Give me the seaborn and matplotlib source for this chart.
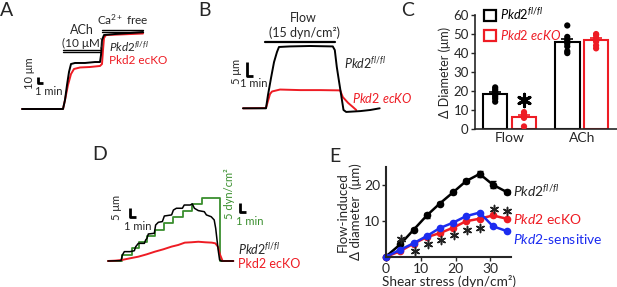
import matplotlib
matplotlib.use("Agg")
import matplotlib.pyplot as plt
import seaborn as sns
import pandas as pd
import numpy as np
from matplotlib.patches import Patch

# ---------------- data ----------------
# A: ACh then Ca2+-free, time (min) vs diameter change (um)
a_fl_t = [0, 8.2, 8.6, 9.0, 9.4, 9.8, 10.6, 12.6, 14.6, 15.6, 15.8, 16.0, 16.4, 18.6, 21.6, 24.2]
a_fl_d = [0, 0, 15, 40, 61.7, 75, 76.7, 76.7, 78.3, 78.3, 90, 115, 123.3, 125, 126.7, 128.3]
a_ko_t = [0, 8.2, 8.6, 9.2, 9.8, 10.4, 11.6, 13.6, 15.6, 16.0, 16.2, 16.4, 16.8, 19.6, 24.2]
a_ko_d = [0, 0, 15, 40, 58.3, 66.7, 69.2, 70, 71.7, 75, 98.3, 118.3, 123.3, 124.2, 125.8]

# B: flow 15 dyn/cm2
b_fl_t = [0, 3.43, 3.73, 4.18, 4.63, 5.07, 5.37, 7.0, 10.0, 13.4, 13.7, 14.0, 14.3, 14.7, 15.0, 15.4, 17.5, 19.0, 20.4]
b_fl_d = [0, 0, 4.75, 10.8, 16.5, 20.1, 21.9, 22.1, 22.25, 22.1, 20.8, 14.75, 10.1, 4.0, -0.6, -1.3, -1.0, -0.6, 0]
b_ko_t = [0, 3.43, 3.73, 4.03, 4.33, 5.52, 8.51, 11.5, 14.5, 14.9, 15.7, 16.4, 16.9]
b_ko_d = [0, 0.1, 2.6, 5.1, 6.0, 6.7, 6.5, 6.5, 6.4, 4.0, 1.9, 0.46, -0.6]

# D: stepwise shear stress
d_fl_t = [0, 2.17, 2.39, 2.72, 3.67, 4.39, 4.61, 5.06, 6.06, 6.28, 6.5, 6.72, 7.72, 7.94, 8.39, 9.06,
          9.39, 10.6, 10.9, 11.4, 12.4, 12.7, 13.7, 14.05, 14.4, 15.05, 16.05, 16.4, 17.2, 17.7,
          17.95, 18.17, 18.4, 18.6, 18.9, 20.9]
d_fl_d = [0, 0.2, 3.3, 5.2, 5.2, 5.7, 7.9, 9.8, 9.8, 11.7, 12.6, 15, 15.4, 20, 21.5, 21.9,
          25, 25.6, 28.3, 29.3, 29.3, 31.1, 31.1, 31.7, 29.3, 28, 27.4, 25.6, 24.6, 22.8,
          18.1, 11.7, 5.2, 0.6, 0, 0]
d_ko_t = [0, 1.17, 2.28, 3.67, 5.06, 6.44, 7.83, 9.22, 10.6, 11.7, 12.8, 13.9, 15.06, 16.2, 17.3,
          17.9, 18.3, 18.7, 19.1, 20.9]
d_ko_d = [0, 0.2, 0.55, 1.5, 2.4, 3.7, 5.2, 6.5, 8.0, 8.9, 10.2, 10.4, 10.7, 10.4, 10.2,
          9.8, 8.0, 3.3, 0, 0]
d_shear_t = [0, 2.28, 3.94, 5.22, 6.56, 7.83, 9.33, 10.9, 12.56, 14.06, 15.6, 18.67, 20.9]
d_shear = [0, 3.5, 7, 10.5, 14, 17.5, 21, 24.5, 28, 31.5, 35, 0, 0]

# C: bar chart values (um)
flow_fl = [22, 21, 20, 19, 18, 17, 16, 14.5]
flow_ko = [9, 8, 7.5, 6.5, 6, 1.5]
ach_fl = [54.5, 48.5, 47, 46, 45, 43.5, 41, 40]
ach_ko = [50, 49.5, 48, 46, 44, 42.5]

# E: shear stress-response
shear = [0, 4.2, 8, 11.8, 15.5, 19.3, 23, 26.9, 30.7, 34.6]
e_fl = [0, 3.5, 7.5, 11.5, 14.8, 17.9, 21, 23, 20, 18]
e_fl_sem = [0, 0.3, 0.4, 0.6, 0.4, 0.4, 0.6, 0.8, 1.0, 0.5]
e_ko = [0, 1.6, 3.7, 5.5, 6.6, 8.1, 9.9, 10.6, 11.5, 10.6]
e_sens = [0, 2, 3.8, 5.8, 8, 9.5, 11.3, 12.3, 8.5, 7.2]
star_x = [4.3, 8.4, 12.2, 15.8, 19.6, 23.3, 27.1, 30.9, 34.8]
star_y = [5.1, 1.6, 3.5, 4.6, 6.2, 7.4, 8.1, 13.4, 12.6]

BLACK = "black"
RED = "#ee1c24"
BLUE = "#1c2cf0"
GREEN = "#3a8f2e"

sns.set_theme(style="ticks")
plt.rcParams["font.family"] = ["Lato", "DejaVu Sans"]
plt.rcParams.update({
    "mathtext.fontset": "custom",
    "mathtext.rm": "Lato",
    "mathtext.it": "Lato:italic",
    "mathtext.bf": "Lato:bold",
    "font.size": 9,
})

FL = r"$\mathit{Pkd2}^{\mathit{fl/fl}}$"
STAR = (6, 2, 0)   # six-armed asterisk marker

W, H = 617, 287
fig = plt.figure(figsize=(W / 100, H / 100), dpi=100)


def px_axes(box, origin, xs, ys):
    # box in pixels (left, top, right, bottom); origin = pixel of (0, 0)
    left, top, right, bottom = box
    ax = fig.add_axes([left / W, 1 - bottom / H, (right - left) / W, (bottom - top) / H])
    ax.set_xlim((left - origin[0]) / xs, (right - origin[0]) / xs)
    ax.set_ylim((origin[1] - bottom) / ys, (origin[1] - top) / ys)
    ax.axis("off")
    return ax


def trace(ax, t, d, color, lw=1.4, **kw):
    sns.lineplot(x=t, y=d, ax=ax, color=color, lw=lw, estimator=None, sort=False, **kw)


def scale_bar(ax, x, y, dx, dy, color="black"):
    ax.plot([x, x, x + dx], [y + dy, y, y], color=color, lw=2.0, solid_capstyle="butt")


# ---------------- A ----------------
axA = px_axes((0, 0, 150, 130), (22, 109), 5, 0.6)
trace(axA, a_ko_t, a_ko_d, RED)
trace(axA, a_fl_t, a_fl_d, BLACK)
for yy in (95, 98.3):
    axA.plot([8.2, 15.6], [yy, yy], color="black", lw=1.0)
for yy in (128.5, 132):
    axA.plot([16.0, 24.2], [yy, yy], color="black", lw=1.0)
axA.text(12.0, 131, "ACh", ha="center", va="center")
axA.text(12.0, 109.5, "(10 μM)", ha="center", va="center", fontsize=8.5)
axA.text(20.2, 148.5, r"Ca$^{2+}$ free", ha="center", va="center", fontsize=8.5)
axA.text(17.4, 103.5, FL, ha="left", va="center", fontsize=8.5)
axA.text(17.4, 81.0, "Pkd2 ecKO", ha="left", va="center", color=RED, fontsize=8.5)
scale_bar(axA, 3.1, 43.3, 1.0, 10)
axA.text(1.5, 60, "10 μm", rotation=90, ha="center", va="center", fontsize=8)
axA.text(5.4, 30, "1 min", ha="center", va="center", fontsize=8)

# ---------------- B ----------------
axB = px_axes((200, 0, 400, 135), (243, 108.3), 6.7, 2.8)
trace(axB, b_ko_t, b_ko_d, RED)
trace(axB, b_fl_t, b_fl_d, BLACK)
axB.plot([3.28, 13.7], [23.8, 23.8], color="black", lw=1.6)
axB.text(8.96, 32.2, "Flow", ha="center", va="center")
axB.text(9.25, 26.9, "(15 dyn/cm²)", ha="center", va="center")
scale_bar(axB, 0.55, 11.5, 1.0, 5)
axB.text(-0.9, 13.3, "5 μm", rotation=90, ha="center", va="center", fontsize=8)
axB.text(1.57, 8.7, "1 min", ha="center", va="center", fontsize=8)
axB.text(15.0, 16.2, FL, ha="left", va="center")
axB.text(16.2, 3.7, r"$\mathit{Pkd2\ ecKO}$", ha="left", va="center", color=RED)

# ---------------- D ----------------
axD = px_axes((90, 140, 300, 280), (108, 261), 6, 1.8)
sns.lineplot(x=d_shear_t, y=d_shear, ax=axD, color=GREEN, lw=1.3, estimator=None,
             sort=False, drawstyle="steps-post")
trace(axD, d_ko_t, d_ko_d, RED)
trace(axD, d_fl_t, d_fl_d, BLACK, lw=1.1)
scale_bar(axD, 3.67, 24.4, 1.0, 5)
axD.text(1.5, 30, "5 μm", rotation=90, ha="center", va="center", fontsize=8)
axD.text(4.9, 18.9, "1 min", ha="center", va="center", fontsize=8)
scale_bar(axD, 22.0, 27.2, 1.0, 5)
axD.text(20.3, 37.5, "5 dyn/cm²", rotation=90, ha="center", va="center", fontsize=8, color=GREEN)
axD.text(23.6, 22.2, "1 min", ha="center", va="center", fontsize=8, color=GREEN)
axD.text(21.6, 6.4, FL, ha="left", va="center")
axD.text(21.6, -1.4, "Pkd2 ecKO", ha="left", va="center", color=RED)

# ---------------- C ----------------
rows = []
for cond, geno, vals in [("Flow", "fl", flow_fl), ("Flow", "ko", flow_ko),
                         ("ACh", "fl", ach_fl), ("ACh", "ko", ach_ko)]:
    for v in vals:
        rows.append({"cond": cond, "geno": geno, "val": v})
df_c = pd.DataFrame(rows)

axC = fig.add_axes([475 / W, 1 - 129.3 / H, 142 / W, 114.3 / H])
pal = {"fl": BLACK, "ko": RED}
sns.barplot(data=df_c, x="cond", y="val", hue="geno", hue_order=["fl", "ko"], palette=pal,
            errorbar=None, fill=False, linewidth=1.5, width=0.8, gap=0.15, legend=False, ax=axC)
stats = df_c.groupby(["cond", "geno"])["val"].agg(["mean", "sem"])
for i, cond in enumerate(["Flow", "ACh"]):
    for off, geno in [(-0.2, "fl"), (0.2, "ko")]:
        m, s = stats.loc[(cond, geno)]
        axC.errorbar([i + off], [m], yerr=[[0], [s]], fmt="none", ecolor=pal[geno],
                     elinewidth=1.2, capsize=4, capthick=1.2, zorder=4)
sns.stripplot(data=df_c, x="cond", y="val", hue="geno", hue_order=["fl", "ko"], palette=pal,
              dodge=True, jitter=False, size=4.5, legend=False, ax=axC, zorder=5)
axC.scatter([0.2], [15.2], marker=STAR, s=80, lw=2.2, color="black", zorder=6)
axC.set_xlim(-0.48, 1.49)
axC.set_ylim(0, 60)
axC.set_yticks(range(0, 61, 10))
axC.set_xlabel("")
axC.set_ylabel("Δ Diameter (μm)", fontsize=9, labelpad=2)
axC.tick_params(axis="x", length=0, labelsize=10, pad=2)
axC.tick_params(axis="y", length=3, width=1, labelsize=9.5, pad=1.5)
sns.despine(ax=axC)
for sp in axC.spines.values():
    sp.set_linewidth(1.2)
handles = [Patch(facecolor="white", edgecolor=BLACK, lw=1.6),
           Patch(facecolor="white", edgecolor=RED, lw=1.6)]
fig.legend(handles, [FL, r"$\mathit{Pkd2\ ecKO}$"], loc="upper left",
           bbox_to_anchor=(476 / W, 1.005), frameon=False, fontsize=9.2,
           handlelength=1.0, handleheight=1.0, handletextpad=0.3, labelspacing=0.45,
           borderpad=0.1, labelcolor=[BLACK, RED])

# ---------------- E ----------------
df_e = pd.DataFrame({
    "shear": shear * 3,
    "dia": e_fl + e_ko + e_sens,
    "group": ["fl"] * len(shear) + ["ko"] * len(shear) + ["sens"] * len(shear),
})
axE = fig.add_axes([385.5 / W, 1 - 257 / H, 126 / W, 90.3 / H])
axE.errorbar(shear, e_fl, yerr=e_fl_sem, fmt="none", ecolor=BLACK, elinewidth=1, capsize=2)
sns.lineplot(data=df_e, x="shear", y="dia", hue="group", hue_order=["fl", "ko", "sens"],
             palette={"fl": BLACK, "ko": RED, "sens": BLUE}, marker="o", markersize=5.5,
             markeredgewidth=0, lw=1.8, estimator=None, legend=False, clip_on=False, ax=axE)
axE.scatter(star_x, star_y, marker=STAR, s=34, lw=1.1, color="#222222", zorder=6, clip_on=False)
axE.set_xlim(0, 36)
axE.set_ylim(0, 25)
axE.set_xticks([0, 10, 20, 30])
axE.set_yticks([10, 20])
axE.set_xlabel("Shear stress (dyn/cm²)", fontsize=9.8, labelpad=0)
axE.set_ylabel("Flow-induced\nΔ diameter  (μm)", fontsize=9.5, labelpad=1, linespacing=1.1)
axE.tick_params(length=3, width=1, labelsize=10, pad=1)
sns.despine(ax=axE)
for sp in axE.spines.values():
    sp.set_linewidth(1.5)
axE.text(36.4, 18.2, FL, ha="left", va="center", fontsize=10)
axE.text(36.4, 10.5, r"$\mathit{Pkd2}$ ecKO", ha="left", va="center", fontsize=10, color=RED)
axE.text(36.4, 5.0, r"$\mathit{Pkd2}$-sensitive", ha="left", va="center", fontsize=10, color=BLUE)

# panel letters
for letter, x, y in [("A", 7, 10), ("B", 204, 10), ("C", 408, 10), ("D", 100, 155), ("E", 335, 156)]:
    fig.text(x / W, 1 - y / H, letter, fontsize=14, ha="center", va="center")

fig.savefig("out.png", dpi=100)
